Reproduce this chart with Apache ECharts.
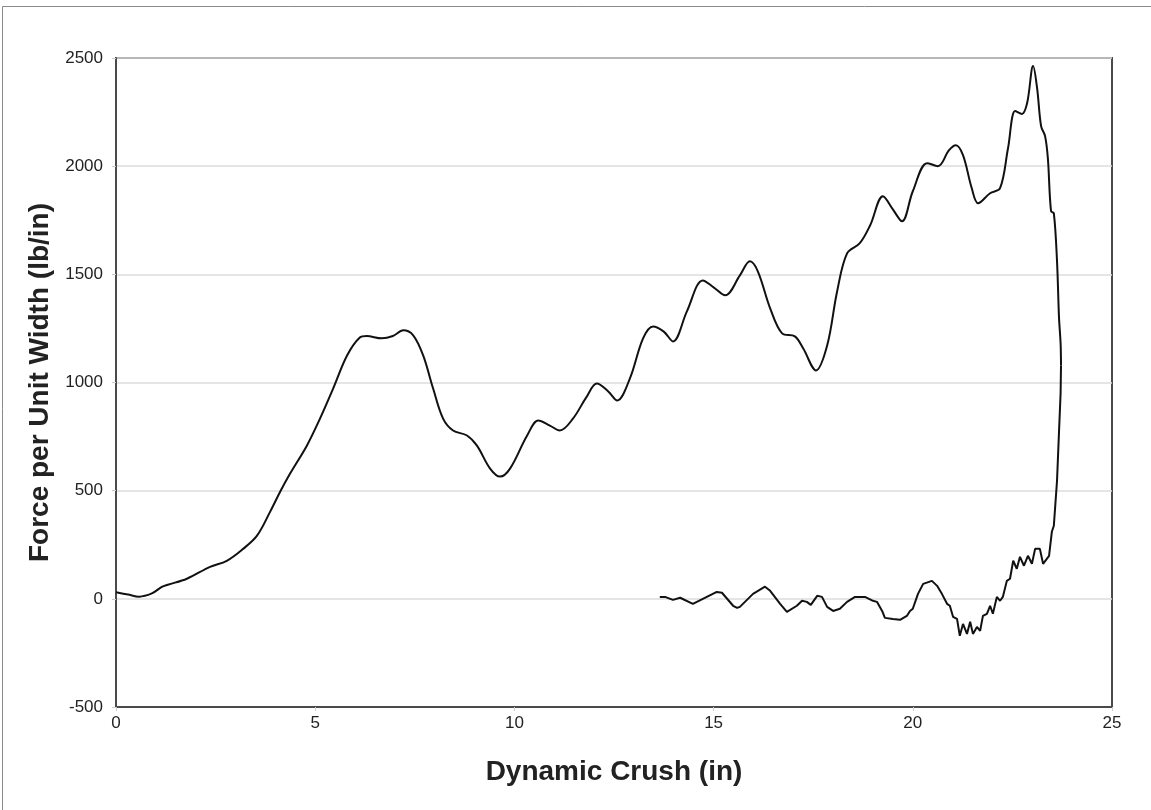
<!DOCTYPE html>
<html lang="en">
<head>
    <meta charset="UTF-8">
    <title>Dynamic Crush</title>
    <style>
        html, body { margin: 0; padding: 0; background: #fff; }
    </style>
</head>
<body>
    <div id="crush" style="width: 1151px;height: 810px"></div>

    <script src="https://cdn.jsdelivr.net/npm/echarts@6/dist/echarts.min.js"></script>
    <script>
        // loading curve (smooth part)
        var loadX = [0, 0.3, 0.58, 0.9, 1.15, 1.3, 1.78, 2.36, 2.78, 3.19, 3.54, 3.87, 4.12, 4.37, 4.79, 5.12, 5.45,
            5.8, 6.12, 6.29, 6.67, 6.95, 7.21, 7.46, 7.71, 7.96, 8.21, 8.46, 8.81, 9.06, 9.39, 9.64, 9.89, 10.32,
            10.6, 10.89, 11.14, 11.47, 11.8, 12.07, 12.35, 12.58, 12.9, 13.23, 13.48, 13.75, 13.98, 14.33, 14.73,
            15.0, 15.29, 15.66, 15.91, 16.11, 16.42, 16.72, 17.04, 17.25, 17.57, 17.85, 18.1, 18.35, 18.67, 18.93,
            19.25, 19.5, 19.73, 20.0, 20.36, 20.63, 20.91, 21.08, 21.26, 21.48, 21.64, 21.94, 22.19, 22.39, 22.57,
            22.74, 22.87, 23.02, 23.12, 23.22, 23.32, 23.39, 23.47, 23.54, 23.62, 23.67, 23.71, 23.72];
        var loadF = [30, 20, 10, 25, 55, 65, 93, 148, 176, 231, 292, 403, 495, 579, 708, 833, 972,
            1125, 1208, 1215, 1204, 1215, 1241, 1218, 1125, 972, 833, 778, 755, 708, 602, 565, 602, 755,
            824, 801, 778, 833, 930, 995, 960, 917, 1019, 1204, 1259, 1235, 1190, 1329, 1472,
            1440, 1403, 1495, 1560, 1514, 1343, 1227, 1213, 1157, 1056, 1171, 1421, 1597, 1644, 1727,
            1861, 1800, 1745, 1884, 2014, 2000, 2074, 2097, 2051, 1898, 1829, 1875, 1898, 2083, 2255,
            2241, 2292, 2463, 2361, 2185, 2139, 2037, 1792, 1782, 1560, 1300, 1180, 1079];

        // unloading curve (noisy part)
        var unloadX = [23.72, 23.71, 23.67, 23.62, 23.54, 23.49, 23.42, 23.37, 23.27, 23.19, 23.07, 22.99, 22.89, 22.79,
            22.69, 22.61, 22.52, 22.44, 22.36, 22.26, 22.19, 22.11, 22.01, 21.94, 21.86, 21.76, 21.69, 21.61, 21.51,
            21.44, 21.36, 21.26, 21.18, 21.11, 21.01, 20.93, 20.86, 20.73, 20.61, 20.48, 20.26, 20.13, 20.0, 19.93,
            19.85, 19.68, 19.5, 19.3, 19.23, 19.1, 19.0, 18.8, 18.55, 18.35, 18.17, 18.0, 17.85, 17.72, 17.6, 17.44,
            17.34, 17.22, 17.09, 16.84, 16.67, 16.42, 16.29, 15.99, 15.66, 15.59, 15.49, 15.21, 15.08, 14.73, 14.48,
            14.16, 13.98, 13.78, 13.65];
        var unloadF = [1079, 950, 773, 546, 338, 310, 199, 208, 162, 231, 231, 162, 199, 153,
            194, 139, 176, 93, 83, 9, -9, 9, -69, -32, -69, -79, -148, -130, -162,
            -106, -162, -116, -171, -93, -83, -32, -23, 23, 60, 83, 69, 23, -46, -56,
            -79, -97, -93, -88, -56, -14, -9, 9, 9, -14, -46, -56, -37, 9, 14, -28,
            -14, -9, -32, -60, -23, 37, 56, 23, -37, -42, -32, 28, 32, 0, -23,
            5, -5, 9, 9];

        var yTicks = [-500, 0, 500, 1000, 1500, 2000, 2500];
        var xTicks = [0, 5, 10, 15, 20, 25];

        function pairs(xs, ys) {
            var out = [];
            for (var i = 0; i < xs.length; i++) out.push([xs[i], ys[i]]);
            return out;
        }

        var myChart = echarts.init(document.getElementById('crush'));
        var font = 'Liberation Sans, Arial, sans-serif';

        myChart.setOption({
            animation: false,
            graphic: [{
                type: 'rect',
                shape: { x: 2.5, y: 6.5, width: 1170, height: 830 },
                style: { fill: 'none', stroke: '#8a8a8a', lineWidth: 1 },
                silent: true
            }],
            grid: {
                left: 116,
                top: 58,
                right: 39,
                bottom: 103,
                show: true,
                borderColor: '#4a4a4a',
                borderWidth: 2
            },
            xAxis: {
                type: 'value',
                min: xTicks[0],
                max: xTicks[xTicks.length - 1],
                interval: 5,
                name: 'Dynamic Crush (in)',
                nameLocation: 'middle',
                nameGap: 51,
                nameTextStyle: { fontFamily: font, fontSize: 28, fontWeight: 'bold', color: '#222' },
                axisLine: { onZero: false, lineStyle: { color: '#4a4a4a', width: 2 } },
                axisTick: { show: true, length: 4, lineStyle: { color: '#ccc' } },
                axisLabel: { fontFamily: font, fontSize: 17, color: '#222', margin: 8,
                    formatter: function (v) { return String(v); } },
                splitLine: { show: false }
            },
            yAxis: {
                type: 'value',
                min: yTicks[0],
                max: yTicks[yTicks.length - 1],
                interval: 500,
                name: 'Force per Unit Width (lb/in)',
                nameLocation: 'middle',
                nameGap: 61,
                nameTextStyle: { fontFamily: font, fontSize: 28, fontWeight: 'bold', color: '#222' },
                axisLine: { onZero: false, lineStyle: { color: '#4a4a4a', width: 2 } },
                axisTick: { show: true, length: 4, lineStyle: { color: '#ccc' } },
                axisLabel: { fontFamily: font, fontSize: 17, color: '#222', margin: 13,
                    formatter: function (v) { return String(v); } },
                splitLine: { show: true, lineStyle: { color: '#dcdcdc', width: 1.5 } }
            },
            series: [
                {
                    type: 'line',
                    data: pairs(loadX, loadF),
                    smooth: 0.35,
                    showSymbol: false,
                    lineStyle: { color: '#111', width: 2 }
                },
                {
                    type: 'line',
                    data: pairs(unloadX, unloadF),
                    smooth: false,
                    showSymbol: false,
                    lineStyle: { color: '#111', width: 2 }
                }
            ]
        });
    </script>
</body>
</html>
